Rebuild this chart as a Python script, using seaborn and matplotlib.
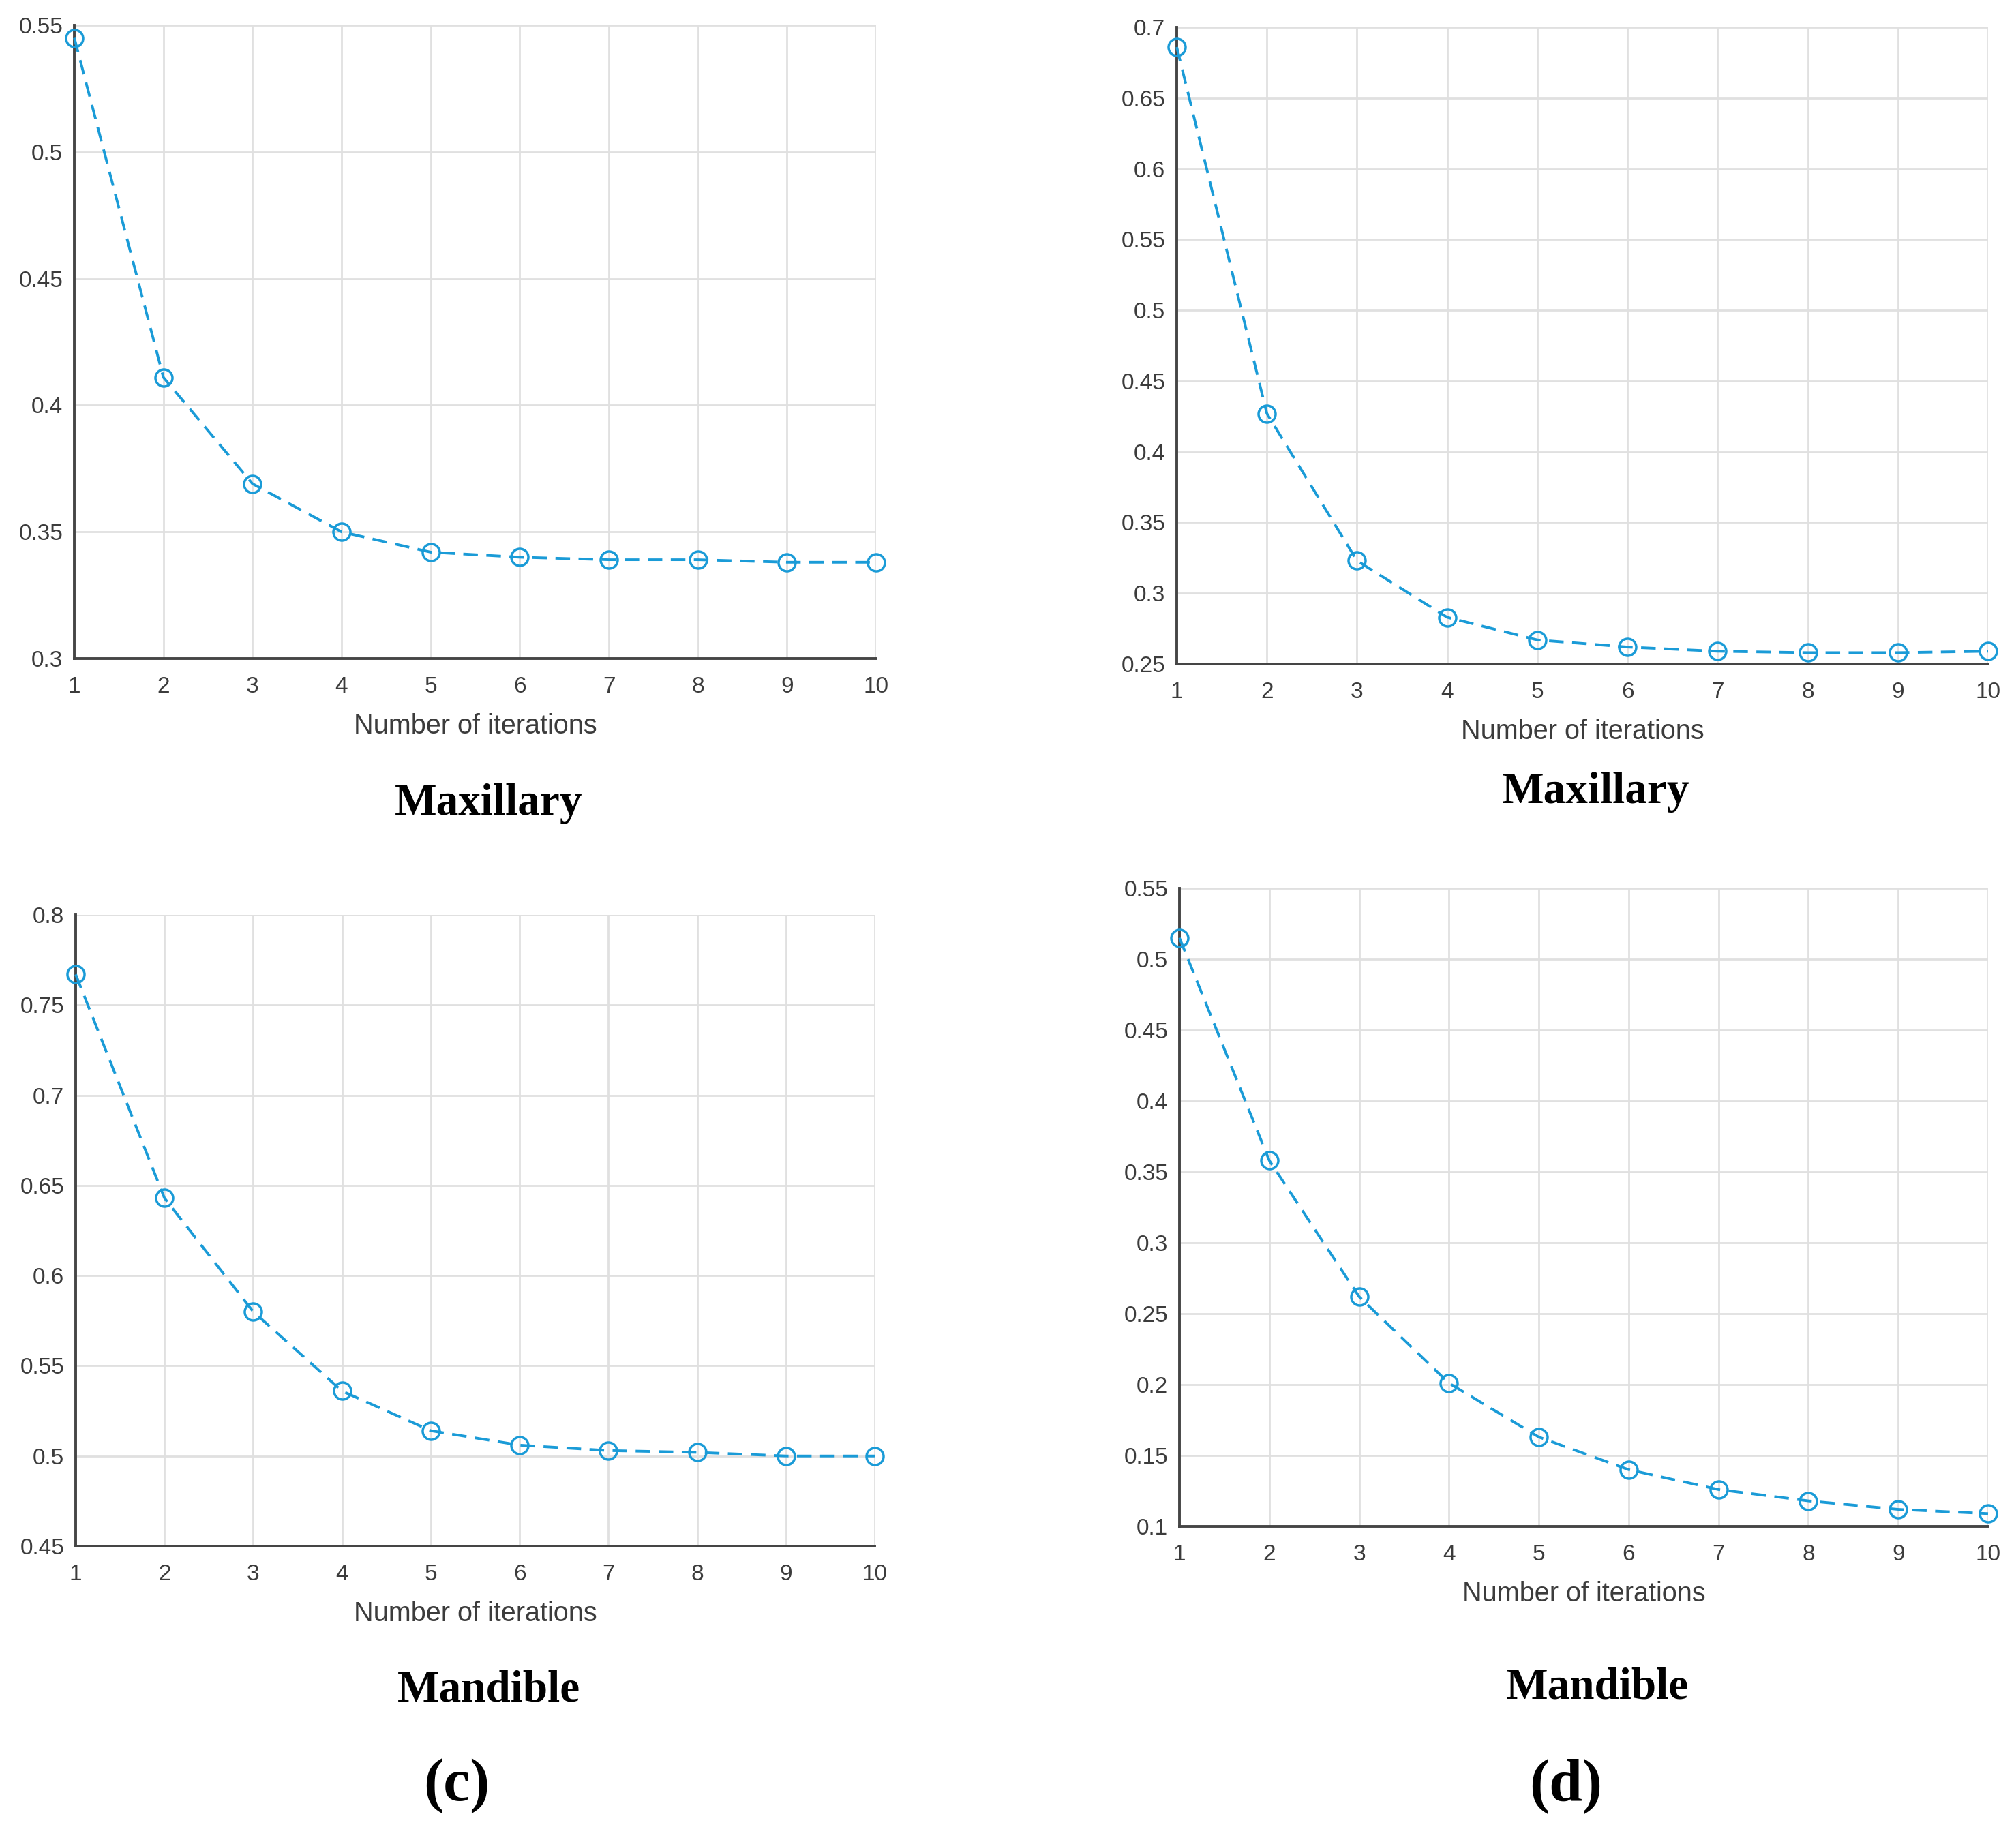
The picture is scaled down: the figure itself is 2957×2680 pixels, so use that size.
import matplotlib
matplotlib.use("Agg")
import matplotlib.pyplot as plt
import seaborn as sns
import pandas as pd

# data
iterations = [1, 2, 3, 4, 5, 6, 7, 8, 9, 10]
maxillary_left = [0.545, 0.411, 0.369, 0.350, 0.342, 0.340, 0.339, 0.339, 0.338, 0.338]
maxillary_right = [0.686, 0.427, 0.323, 0.283, 0.267, 0.262, 0.259, 0.258, 0.258, 0.259]
mandible_left = [0.767, 0.643, 0.580, 0.536, 0.514, 0.506, 0.503, 0.502, 0.500, 0.500]
mandible_right = [0.515, 0.358, 0.262, 0.201, 0.163, 0.140, 0.126, 0.118, 0.112, 0.109]

yticks_a = [0.3, 0.35, 0.4, 0.45, 0.5, 0.55]
yticks_b = [0.25, 0.3, 0.35, 0.4, 0.45, 0.5, 0.55, 0.6, 0.65, 0.7]
yticks_c = [0.45, 0.5, 0.55, 0.6, 0.65, 0.7, 0.75, 0.8]
yticks_d = [0.1, 0.15, 0.2, 0.25, 0.3, 0.35, 0.4, 0.45, 0.5, 0.55]

xlabel = "Number of iterations"
titles = ["Maxillary", "Maxillary", "Mandible", "Mandible"]
panel_tags = ["(c)", "(d)"]

sns.set_theme(style="white")
plt.rcParams["font.family"] = ["Liberation Sans", "DejaVu Sans"]

W, H = 2957, 2680
LINE = "#1a9bd7"
AXCOL = "#454545"
TXT = "#3c3c3c"

fig = plt.figure(figsize=(W / 100, H / 100), dpi=100)
fig.patch.set_facecolor("white")

# axes boxes in pixels: left, top, right, bottom
boxes = [(109, 37, 1285, 966), (1726, 40, 2916, 974),
         (111, 1342, 1283, 2268), (1730, 1303, 2916, 2239)]
series = [maxillary_left, maxillary_right, mandible_left, mandible_right]
yticks = [yticks_a, yticks_b, yticks_c, yticks_d]
title_base = [1195, 1178, 2495, 2491]

for i, (box, vals, yt) in enumerate(zip(boxes, series, yticks)):
    l, t, r, b = box
    ax = fig.add_axes([l / W, 1 - b / H, (r - l) / W, (b - t) / H])
    df = pd.DataFrame({"it": iterations, "val": vals})
    sns.lineplot(data=df, x="it", y="val", ax=ax, color=LINE, linewidth=2.8,
                 linestyle=(0, (5.5, 3.2)), marker="o", markersize=18,
                 markerfacecolor="none", markeredgecolor=LINE,
                 markeredgewidth=2.5, clip_on=False, zorder=5)
    ax.set_xlim(1, 10)
    ax.set_ylim(yt[0], yt[-1])
    ax.set_xticks(iterations)
    ax.set_xticklabels([str(v) for v in iterations])
    ax.set_yticks(yt)
    ax.set_yticklabels([f"{v:g}" for v in yt])
    ax.grid(True, color="#e0e0e0", linewidth=2)
    ax.set_axisbelow(True)
    for s in ["top", "right"]:
        ax.spines[s].set_visible(False)
    for s in ["left", "bottom"]:
        ax.spines[s].set_color(AXCOL)
        ax.spines[s].set_linewidth(2.8)
    ax.tick_params(axis="both", direction="in", length=7, width=1.8,
                   color=AXCOL, labelcolor=TXT, labelsize=24)
    ax.tick_params(axis="x", pad=19)
    ax.tick_params(axis="y", pad=12)
    ax.set_ylabel("")
    ax.set_xlabel(xlabel, fontsize=28.5, color=TXT, va="baseline")
    ax.xaxis.set_label_coords(0.5, -110 / (b - t))
    cx = (l + r) / 2 + 20
    fig.text(cx / W, 1 - title_base[i] / H, titles[i], ha="center",
             va="baseline", fontsize=47, fontweight="bold",
             family=["Liberation Serif", "DejaVu Serif"], color="black")

for tag, x in zip(panel_tags, [670, 2297]):
    fig.text(x / W, 1 - 2641 / H, tag, ha="center", va="baseline",
             fontsize=63, fontweight="bold",
             family=["Liberation Serif", "DejaVu Serif"], color="black")

fig.savefig("out.png", dpi=100, facecolor="white")
